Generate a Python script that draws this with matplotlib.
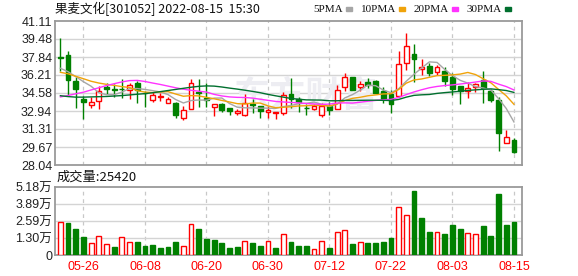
import numpy as np
import matplotlib
matplotlib.use('Agg')
import matplotlib.pyplot as plt
from matplotlib.patches import Rectangle

plt.rcParams['font.family'] = ['Liberation Sans', 'Noto Sans CJK SC']

# Datos (K diaria, 60 sesiones)
dates = ['05-23', '05-24', '05-25', '05-26', '05-27', '05-30', '05-31', '06-01', '06-02', '06-06',
         '06-07', '06-08', '06-09', '06-10', '06-13', '06-14', '06-15', '06-16', '06-17', '06-20',
         '06-21', '06-22', '06-23', '06-24', '06-27', '06-28', '06-29', '06-30', '07-01', '07-04',
         '07-05', '07-06', '07-07', '07-08', '07-11', '07-12', '07-13', '07-14', '07-15', '07-18',
         '07-19', '07-20', '07-21', '07-22', '07-25', '07-26', '07-27', '07-28', '07-29', '08-01',
         '08-02', '08-03', '08-04', '08-05', '08-08', '08-09', '08-10', '08-11', '08-12', '08-15']
label_dates = ['05-26', '06-08', '06-20', '06-30', '07-12', '07-22', '08-03', '08-15']

opens = [37.85, 38.00, 35.70, 34.00, 33.45, 33.82, 35.10, 34.97, 34.98, 34.88,
         35.50, 34.60, 33.97, 34.18, 33.64, 33.67, 32.30, 33.10, 34.68, 34.10,
         33.33, 33.58, 33.20, 32.80, 32.55, 33.55, 33.35, 32.88, 32.76, 32.80,
         34.46, 34.03, 33.22, 33.15, 32.62, 33.40, 33.13, 35.10, 36.00, 35.10,
         35.60, 35.70, 34.75, 34.50, 34.33, 37.30, 38.12, 36.78, 37.00, 36.45,
         36.55, 36.03, 35.20, 34.78, 35.10, 35.80, 34.75, 33.90, 30.05, 30.30]
highs = [39.57, 38.36, 36.00, 34.33, 34.19, 35.18, 35.45, 35.35, 35.85, 35.46,
         35.65, 34.75, 34.65, 34.60, 34.20, 33.80, 33.35, 35.82, 35.82, 35.46,
         33.60, 33.70, 33.20, 33.12, 34.45, 34.00, 33.40, 33.35, 32.84, 34.67,
         35.92, 34.25, 33.60, 33.55, 33.65, 33.78, 35.30, 36.42, 36.02, 35.62,
         35.93, 35.72, 35.10, 34.85, 38.40, 40.05, 39.03, 37.70, 37.33, 37.10,
         36.97, 36.35, 35.25, 35.60, 35.50, 36.60, 34.95, 34.20, 31.20, 30.45]
lows = [36.57, 34.28, 33.24, 32.20, 33.20, 33.15, 34.45, 34.25, 34.10, 34.00,
        33.65, 33.30, 33.73, 33.85, 33.64, 32.28, 32.15, 33.10, 33.28, 33.34,
        32.45, 32.82, 32.62, 32.57, 32.52, 32.75, 32.28, 32.30, 32.25, 32.55,
        33.24, 32.88, 32.60, 33.05, 32.42, 32.60, 33.10, 34.79, 34.82, 34.79,
        35.00, 34.55, 33.65, 32.80, 34.25, 36.70, 35.60, 36.20, 36.15, 36.25,
        35.20, 34.40, 33.60, 34.15, 34.70, 33.70, 33.75, 29.34, 30.00, 29.15]
closes = [37.78, 35.80, 34.90, 33.72, 33.76, 34.80, 34.95, 34.88, 34.93, 35.27,
          34.85, 34.55, 34.37, 34.33, 34.03, 32.62, 33.00, 35.48, 34.62, 33.95,
          33.56, 33.05, 32.97, 32.92, 33.65, 33.50, 32.98, 32.99, 32.82, 34.43,
          34.03, 33.72, 33.18, 33.37, 33.40, 33.05, 34.82, 36.00, 34.88, 35.40,
          35.33, 34.60, 34.05, 33.60, 37.20, 38.82, 37.68, 36.94, 36.38, 36.92,
          35.63, 34.95, 34.78, 35.05, 35.35, 35.03, 33.97, 30.97, 30.55, 29.25]
prev_close = 37.50  # cierre anterior a la primera sesion

ma5 = [36.82, 36.51, 36.06, 35.60, 35.19, 34.59, 34.42, 34.42, 34.66, 34.97,
       34.98, 34.90, 34.79, 34.67, 34.43, 33.98, 33.67, 33.89, 33.94, 33.92,
       34.11, 34.12, 33.62, 33.29, 33.23, 33.22, 33.20, 33.20, 33.18, 33.34,
       33.45, 33.60, 33.64, 33.75, 33.55, 33.35, 33.56, 34.13, 34.43, 34.83,
       35.29, 35.24, 34.85, 34.60, 34.96, 35.65, 36.27, 36.85, 37.40, 37.35,
       36.71, 36.16, 35.73, 35.47, 35.15, 35.03, 34.84, 34.07, 33.17, 31.95]
ma10 = [36.45, 36.32, 36.09, 35.87, 35.64, 35.48, 35.36, 35.27, 35.15, 35.08,
        34.78, 34.66, 34.61, 34.67, 34.70, 34.48, 34.28, 34.34, 34.31, 34.18,
        34.05, 33.90, 33.76, 33.61, 33.58, 33.66, 33.66, 33.41, 33.24, 33.28,
        33.33, 33.40, 33.42, 33.47, 33.44, 33.40, 33.58, 33.89, 34.09, 34.19,
        34.32, 34.40, 34.49, 34.51, 34.89, 35.47, 35.76, 35.85, 36.00, 36.15,
        36.18, 36.22, 36.29, 36.44, 36.25, 35.87, 35.50, 34.90, 34.32, 33.55]
ma20 = [34.22, 34.35, 34.50, 34.65, 34.85, 35.05, 35.25, 35.42, 35.58, 35.70,
        35.72, 35.62, 35.48, 35.35, 35.20, 35.05, 34.92, 34.82, 34.74, 34.66,
        34.45, 34.31, 34.22, 34.18, 34.17, 34.11, 34.01, 33.91, 33.81, 33.76,
        33.72, 33.68, 33.62, 33.58, 33.54, 33.57, 33.66, 33.68, 33.66, 33.74,
        33.83, 33.90, 33.96, 33.99, 34.17, 34.43, 34.67, 34.87, 35.05, 35.17,
        35.25, 35.31, 35.39, 35.47, 35.57, 35.67, 35.63, 35.38, 35.16, 34.85]
ma30 = [34.33, 34.25, 34.20, 34.20, 34.22, 34.24, 34.26, 34.30, 34.34, 34.40,
        34.46, 34.52, 34.60, 34.70, 34.80, 34.90, 35.00, 35.10, 35.18, 35.22,
        35.20, 35.12, 35.02, 34.93, 34.83, 34.72, 34.60, 34.45, 34.32, 34.20,
        34.08, 34.01, 33.95, 33.94, 33.93, 33.87, 33.87, 33.90, 33.90, 33.91,
        33.92, 33.92, 33.91, 33.89, 33.99, 34.20, 34.36, 34.41, 34.44, 34.54,
        34.61, 34.67, 34.73, 34.81, 34.86, 34.91, 34.95, 34.88, 34.80, 34.63]

# Volumen en 10k acciones (万)
volume = [2.49, 2.46, 1.98, 1.37, 0.89, 1.42, 0.81, 0.61, 1.35, 0.97,
          0.99, 0.69, 0.76, 0.53, 0.61, 0.99, 0.66, 2.34, 1.98, 1.22,
          1.14, 0.91, 0.53, 0.61, 1.04, 0.91, 0.69, 1.07, 0.53, 1.60,
          1.02, 0.69, 0.69, 0.43, 1.07, 0.53, 1.75, 1.88, 0.84, 0.96,
          0.91, 0.91, 1.02, 1.29, 3.63, 3.05, 4.87, 2.82, 1.78, 1.75,
          1.60, 2.28, 1.98, 1.68, 1.60, 2.21, 1.45, 4.64, 2.28, 2.542]

price_ticks = [28.04, 29.67, 31.31, 32.94, 34.58, 36.21, 37.84, 39.48, 41.11]
vol_ticks = [0, 1.30, 2.59, 3.89, 5.18]
vol_labels = ['0', '1.30万', '2.59万', '3.89万', '5.18万']

ma_names = ['5PMA', '10PMA', '20PMA', '30PMA']
ma_colors = ['#a6a6a6', '#f0a30a', '#ff33ff', '#006f2e']

W, H = 578, 276
RED = '#ff0000'
GREEN = '#008000'
GRID = '#d4d4d4'
BORDER = '#9a9a9a'

def fx(px):
    return px / W

def fy(py):
    return 1 - py / H

fig = plt.figure(figsize=(W / 100, H / 100), dpi=100)
ax = fig.add_axes([fx(55), fy(165), fx(522) - fx(55), fy(21) - fy(165)])
axv = fig.add_axes([fx(55), fy(255), fx(522) - fx(55), fy(187) - fy(255)])

x = np.arange(len(closes))
o = np.array(opens)
c = np.array(closes)
up = c >= o
pc = np.array([prev_close] + closes[:-1])
vol_up = c >= pc
tick_pos = [dates.index(d) for d in label_dates]

for a in (ax, axv):
    a.set_xlim(-0.7, 60.05)
    for s in a.spines.values():
        s.set_color(BORDER)
        s.set_linewidth(1.3)
    for tp in tick_pos:
        a.axvline(tp, color='#c8c8c8', lw=0.9, ls=(0, (3, 3)), zorder=0)
    a.tick_params(length=0, labelsize=9, colors='#222222', pad=2)

# Panel de precios
ax.set_ylim(28.04, 41.11)
ax.set_yticks(price_ticks)
ax.set_yticklabels([f'{t:.2f}' for t in price_ticks])
for t in price_ticks[1:-1]:
    ax.axhline(t, color=GRID, lw=1.0, zorder=0)
ax.set_xticks([])

# marca de agua
ax.text(32, 34.3, '东方财富', fontsize=26, fontweight='bold', color='#ededf2',
        ha='center', va='center', zorder=0.5, family=['Noto Sans CJK SC'])

ax.vlines(x, lows, highs, colors=[RED if u else GREEN for u in up], lw=1.0, zorder=2)
body_h = np.maximum(np.abs(c - o), 0.03)
body_b = np.minimum(c, o)
ax.bar(x[up], body_h[up], bottom=body_b[up], width=0.62, facecolor='white',
       edgecolor=RED, linewidth=1.0, zorder=3)
ax.bar(x[~up], body_h[~up], bottom=body_b[~up], width=0.62, facecolor=GREEN,
       edgecolor=GREEN, linewidth=1.0, zorder=3)

for serie, col in zip([ma5, ma10, ma20, ma30], ma_colors):
    ax.plot(x, serie, color=col, lw=1.0, zorder=4)

# Panel de volumen
axv.set_ylim(0, 5.18)
axv.set_yticks(vol_ticks)
axv.set_yticklabels(vol_labels)
for t in vol_ticks[1:-1]:
    axv.axhline(t, color=GRID, lw=1.0, zorder=0)
v = np.array(volume)
axv.bar(x[vol_up], v[vol_up], width=0.62, facecolor='white', edgecolor=RED,
        linewidth=1.0, zorder=3)
axv.bar(x[~vol_up], v[~vol_up], width=0.62, facecolor=GREEN, edgecolor=GREEN,
        linewidth=1.0, zorder=3)
axv.set_xticks(tick_pos)
axv.set_xticklabels(label_dates, color=RED, fontsize=9)
axv.tick_params(axis='x', pad=4)

# Titulos
fig.text(fx(55), fy(9), '果麦文化[301052] 2022-08-15  15:30', fontsize=9,
         va='center', ha='left', family=['Noto Sans CJK SC'], color='#111111')
fig.text(fx(57), fy(177), '成交量:25420', fontsize=9.5, va='center', ha='left',
         family=['Noto Sans CJK SC'], color='#111111')

# Leyenda de medias moviles: se mide el texto y se coloca la muestra detras
renderer = fig.canvas.get_renderer()
textos = []
for name in ma_names:
    t = fig.text(0, fy(9), name, fontsize=8, va='center', ha='left',
                 family=['Liberation Serif'], color='#111111')
    textos.append(t)
anchos = [t.get_window_extent(renderer).width for t in textos]
gap_sw, sw, gap_next = 3, 6, 9
total = sum(anchos) + len(anchos) * (gap_sw + sw) + (len(anchos) - 1) * gap_next
pos = 511 - total
for t, w, col in zip(textos, anchos, ma_colors):
    t.set_x(fx(pos))
    pos += w + gap_sw
    fig.patches.append(Rectangle((fx(pos), fy(11)), fx(sw), fy(0) - fy(4),
                                 transform=fig.transFigure, color=col))
    pos += sw + gap_next

fig.savefig('out.png', dpi=100, facecolor='white')
